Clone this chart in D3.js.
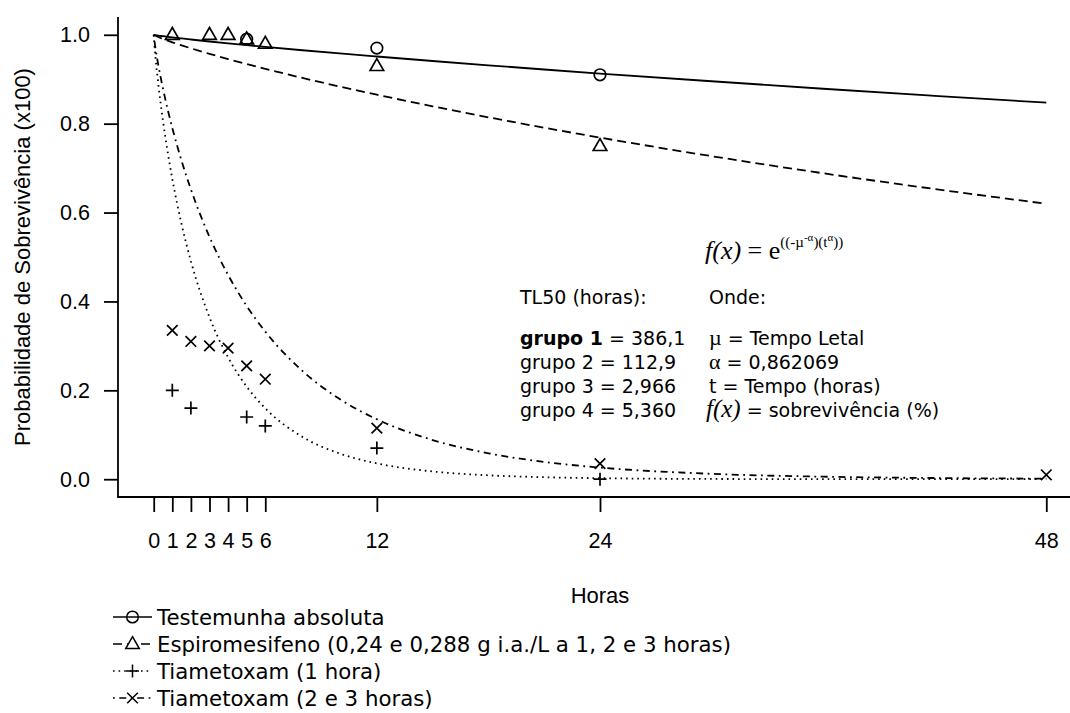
<!DOCTYPE html>
<html>
<head>
<meta charset="utf-8">
<script src="https://cdn.jsdelivr.net/npm/d3@7/dist/d3.min.js"></script>
<style>
    body { margin: 0; background: #fff; }
    svg { display: block; }
    .axis text { font-family: "Liberation Sans", Arial, sans-serif; font-size: 21.5px; fill: #000; }
    .axis line { stroke: #000; stroke-width: 1.8; }
    .note { font-family: "DejaVu Sans", Verdana, sans-serif; font-size: 19px; fill: #000; }
    .serif { font-family: "Liberation Serif", "Times New Roman", serif; }
    .legend text { font-family: "DejaVu Sans", Verdana, sans-serif; font-size: 21.3px; fill: #000; }
</style>
</head>
<body>
<div id="chart"></div>
<script>
// Observed survival (proportion) by hour, one array pair per treatment
const circleHours = [5, 12, 24];
const circleValues = [0.99, 0.97, 0.91];

const triangleHours = [1, 3, 4, 5, 6, 12, 24];
const triangleValues = [1.0, 1.0, 1.0, 0.99, 0.98, 0.93, 0.75];

const plusHours = [1, 2, 5, 6, 12, 24];
const plusValues = [0.20, 0.16, 0.14, 0.12, 0.07, 0.0];

const crossHours = [1, 2, 3, 4, 5, 6, 12, 24, 48];
const crossValues = [0.335, 0.31, 0.30, 0.295, 0.255, 0.225, 0.115, 0.035, 0.01];

// Fitted curves
const curveHours = [0, 0.1, 0.25, 0.5, 0.75, 1, 1.5, 2, 3, 4, 5, 6, 8, 10, 12, 15, 18, 21, 24, 30, 36, 42, 48];
const fitGroup1 = [1, 0.9992, 0.9982, 0.9968, 0.9954, 0.9941, 0.9917, 0.9894, 0.9849, 0.9807, 0.9767, 0.9728,
    0.9652, 0.9580, 0.9511, 0.9410, 0.9313, 0.9219, 0.9128, 0.8954, 0.8786, 0.8627, 0.8472];
const fitGroup2 = [1, 0.9977, 0.9949, 0.9907, 0.9868, 0.9831, 0.9762, 0.9696, 0.9571, 0.9454, 0.9342, 0.9234,
    0.9029, 0.8836, 0.8652, 0.8390, 0.8143, 0.7909, 0.7686, 0.7269, 0.6884, 0.6529, 0.6198];
const fitGroup3 = [1, 0.9476, 0.8882, 0.8062, 0.7366, 0.6759, 0.5737, 0.4907, 0.3643, 0.2741, 0.2083, 0.1595,
    0.0952, 0.0578, 0.0356, 0.0175, 0.0088, 0.0045, 0.0023, 0.0006, 0.0002, 0.0001, 0.0];
const fitGroup4 = [1, 0.9682, 0.9313, 0.8786, 0.8323, 0.7904, 0.7163, 0.6522, 0.5453, 0.4597, 0.3899, 0.3322,
    0.2436, 0.1805, 0.1349, 0.0882, 0.0583, 0.0389, 0.0262, 0.0121, 0.0057, 0.0027, 0.0013];

// Axis ticks
const xTicks = [0, 1, 2, 3, 4, 5, 6, 12, 24, 48];
const yTicks = [0, 0.2, 0.4, 0.6, 0.8, 1.0];

// Text
const legendLabels = [
    'Testemunha absoluta',
    'Espiromesifeno (0,24 e 0,288 g i.a./L a 1, 2 e 3 horas)',
    'Tiametoxam (1 hora)',
    'Tiametoxam (2 e 3 horas)'
];
const groupNames = ['grupo 1', 'grupo 2', 'grupo 3', 'grupo 4'];
const tl50Values = ['386,1', '112,9', '2,966', '5,360'];

const config = {
    width: 1070,
    height: 713,
    plot: { left: 118, right: 1082, top: 17, bottom: 497 },
    lineWidth: 1.8,
    dashes: ['none', '9,5', '1.6,4', '1.8,4.5,7,4.5'],
    symbols: ['circle', 'triangle', 'plus', 'cross']
};

// R-style marker paths, centred on 0,0
const symbolPath = (type) => {
    if (type === 'circle') {
        const r = 5.8;
        return `M ${-r} 0 A ${r} ${r} 0 1 0 ${r} 0 A ${r} ${r} 0 1 0 ${-r} 0 Z`;
    }
    if (type === 'triangle') return 'M 0 -7.3 L 6.8 4.6 L -6.8 4.6 Z';
    if (type === 'plus') return 'M -6.5 0 L 6.5 0 M 0 -6.5 L 0 6.5';
    return 'M -5.3 -5.3 L 5.3 5.3 M -5.3 5.3 L 5.3 -5.3';
};

const initChart = () => {
    const svg = d3.select('#chart').append('svg')
        .attr('width', config.width)
        .attr('height', config.height);

    // R extends the data range by 4% on each side
    const xPad = 48 * 0.04;
    const yPad = 0.04;
    const x = d3.scaleLinear().domain([-xPad, 48 + xPad]).range([config.plot.left, config.plot.right]);
    const y = d3.scaleLinear().domain([-yPad, 1 + yPad]).range([config.plot.bottom, config.plot.top]);

    // Box (bty = "l")
    svg.append('path')
        .attr('d', `M ${config.plot.left} ${config.plot.top} L ${config.plot.left} ${config.plot.bottom} L ${config.width} ${config.plot.bottom}`)
        .attr('fill', 'none')
        .attr('stroke', '#000')
        .attr('stroke-width', config.lineWidth);

    const yAxis = svg.append('g')
        .attr('class', 'axis')
        .attr('transform', `translate(${config.plot.left},0)`)
        .call(d3.axisLeft(y).tickValues(yTicks).tickFormat(d3.format('.1f')).tickSize(14).tickPadding(14));
    yAxis.select('.domain').remove();

    const xAxis = svg.append('g')
        .attr('class', 'axis')
        .attr('transform', `translate(0,${config.plot.bottom})`)
        .call(d3.axisBottom(x).tickValues(xTicks).tickFormat(d3.format('d')).tickSize(15));
    xAxis.select('.domain').remove();
    xAxis.selectAll('text').attr('y', 51).attr('dy', 0);

    svg.append('text')
        .attr('transform', `translate(30,${(config.plot.top + config.plot.bottom) / 2}) rotate(-90)`)
        .attr('text-anchor', 'middle')
        .style('font-family', '"Liberation Sans", Arial, sans-serif')
        .style('font-size', '22px')
        .text('Probabilidade de Sobrevivência (x100)');

    svg.append('text')
        .attr('x', (config.plot.left + config.plot.right) / 2)
        .attr('y', 603)
        .attr('text-anchor', 'middle')
        .style('font-family', '"Liberation Sans", Arial, sans-serif')
        .style('font-size', '22px')
        .text('Horas');

    // Fitted curves
    const fits = [fitGroup1, fitGroup2, fitGroup3, fitGroup4];
    const line = d3.line()
        .x(d => x(d[0]))
        .y(d => y(d[1]))
        .curve(d3.curveMonotoneX);

    svg.append('g').selectAll('path')
        .data(fits)
        .enter().append('path')
        .attr('d', vals => line(curveHours.map((h, i) => [h, vals[i]])))
        .attr('fill', 'none')
        .attr('stroke', '#000')
        .attr('stroke-width', config.lineWidth)
        .attr('stroke-dasharray', (d, i) => config.dashes[i]);

    // Observed points
    const pointSets = [
        [circleHours, circleValues],
        [triangleHours, triangleValues],
        [plusHours, plusValues],
        [crossHours, crossValues]
    ];
    pointSets.forEach(([hours, values], k) => {
        svg.append('g').selectAll('path')
            .data(hours.map((h, i) => [h, values[i]]))
            .enter().append('path')
            .attr('transform', d => `translate(${x(d[0])},${y(d[1])})`)
            .attr('d', symbolPath(config.symbols[k]))
            .attr('fill', 'none')
            .attr('stroke', '#000')
            .attr('stroke-width', 1.7);
    });

    // Annotation: model and TL50
    const note = svg.append('g').attr('class', 'note');
    const rowY = i => 344.5 + i * 24.3;

    const formula = note.append('text').attr('x', 705).attr('y', 259).attr('class', 'serif').style('font-size', '26px');
    formula.append('tspan').style('font-style', 'italic').text('f(x)');
    formula.append('tspan').text(' = e');
    formula.append('tspan').attr('dy', -12).style('font-size', '15px').text('((-µ');
    formula.append('tspan').attr('dy', -6).style('font-size', '11px').text('-α');
    formula.append('tspan').attr('dy', 6).style('font-size', '15px').text(')(t');
    formula.append('tspan').attr('dy', -6).style('font-size', '11px').text('α');
    formula.append('tspan').attr('dy', 6).style('font-size', '15px').text('))');

    note.append('text').attr('x', 520).attr('y', 304).text('TL50 (horas):');
    note.append('text').attr('x', 709).attr('y', 304).text('Onde:');

    groupNames.forEach((name, i) => {
        const t = note.append('text').attr('x', 520).attr('y', rowY(i));
        t.append('tspan').style('font-weight', i === 0 ? 'bold' : 'normal').text(name);
        t.append('tspan').text(' = ' + tl50Values[i]);
    });

    const mu = note.append('text').attr('x', 709).attr('y', rowY(0));
    mu.append('tspan').attr('class', 'serif').style('font-size', '22px').text('µ');
    mu.append('tspan').text(' = Tempo Letal');

    const alpha = note.append('text').attr('x', 709).attr('y', rowY(1));
    alpha.append('tspan').attr('class', 'serif').style('font-size', '22px').text('α');
    alpha.append('tspan').text(' = 0,862069');

    note.append('text').attr('x', 709).attr('y', rowY(2)).text('t = Tempo (horas)');

    const fx = note.append('text').attr('x', 706).attr('y', rowY(3));
    fx.append('tspan').attr('class', 'serif').style('font-size', '25px').style('font-style', 'italic').text('f(x)');
    fx.append('tspan').text(' = sobrevivência (%)');

    // Legend
    const legend = svg.append('g').attr('class', 'legend');
    legendLabels.forEach((label, i) => {
        const cy = 617 + i * 27;
        legend.append('line')
            .attr('x1', 113).attr('x2', 152)
            .attr('y1', cy).attr('y2', cy)
            .attr('stroke', '#000')
            .attr('stroke-width', 1.6)
            .attr('stroke-dasharray', config.dashes[i]);
        legend.append('path')
            .attr('transform', `translate(132.5,${cy})`)
            .attr('d', symbolPath(config.symbols[i]))
            .attr('fill', i === 0 ? 'none' : '#fff')
            .attr('stroke', '#000')
            .attr('stroke-width', 1.5);
        legend.append('text')
            .attr('x', 157)
            .attr('y', cy)
            .attr('dy', '0.36em')
            .text(label);
    });
};

document.addEventListener('DOMContentLoaded', initChart);
</script>
</body>
</html>
